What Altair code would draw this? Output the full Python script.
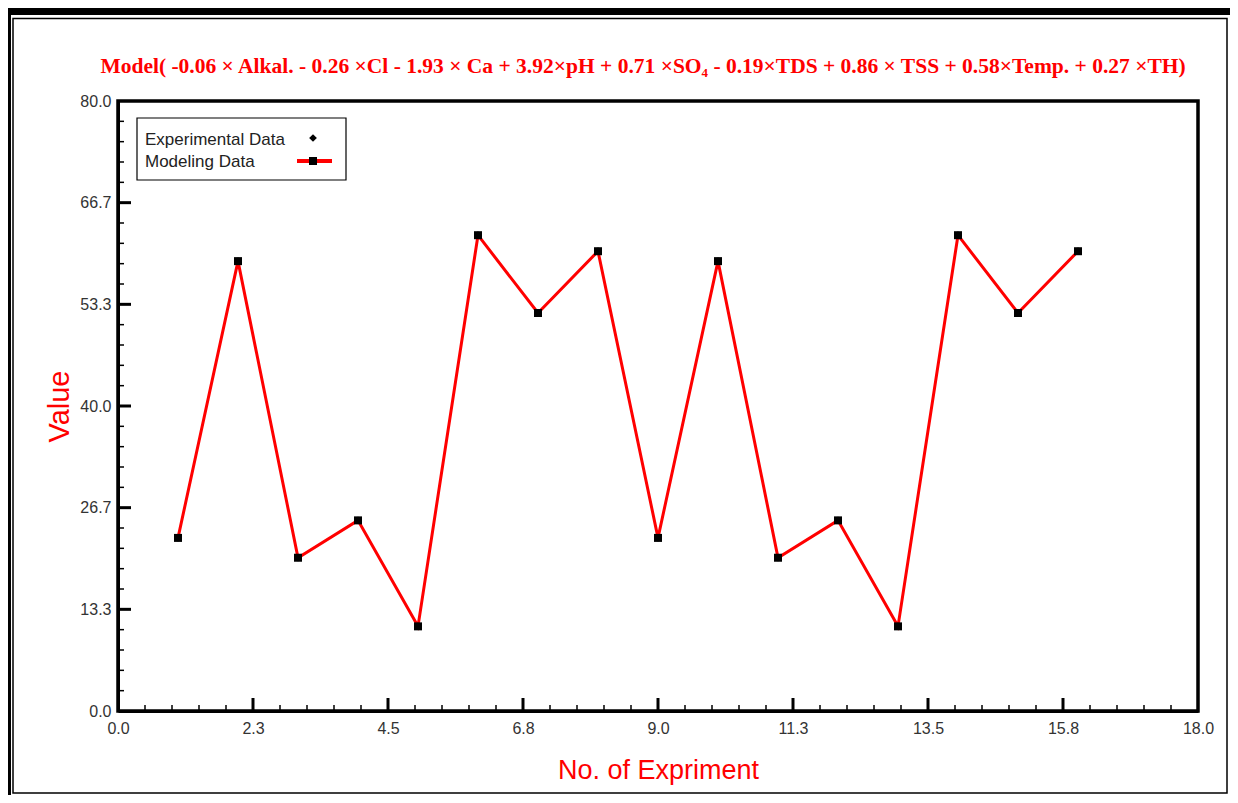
import altair as alt
import pandas as pd

# ---------------- data ----------------
experiments = list(range(1, 17))
experimental = [22.7, 59.0, 20.1, 25.0, 11.1, 62.4, 52.2, 60.3,
                22.7, 59.0, 20.1, 25.0, 11.1, 62.4, 52.2, 60.3]
modeling = [22.7, 59.0, 20.1, 25.0, 11.1, 62.4, 52.2, 60.3,
            22.7, 59.0, 20.1, 25.0, 11.1, 62.4, 52.2, 60.3]

x_ticks = [0, 2.25, 4.5, 6.75, 9, 11.25, 13.5, 15.75, 18]
y_ticks = [0, 40 / 3, 80 / 3, 40, 160 / 3, 200 / 3, 80]
legend_names = ["Experimental Data", "Modeling Data"]
title_text = ("Model( -0.06 × Alkal. - 0.26 ×Cl - 1.93 × Ca + 3.92×pH + 0.71 ×SO₄ "
              "- 0.19×TDS + 0.86 × TSS + 0.58×Temp. + 0.27 ×TH)")
x_title = "No. of Expriment"
y_title = "Value"


def minor(ticks):
    out = []
    for a, b in zip(ticks[:-1], ticks[1:]):
        out += [a + (b - a) * i / 5 for i in range(1, 5)]
    return out


df = pd.DataFrame({"exp": experiments, "experimental": experimental, "modeling": modeling})
df_xmaj = pd.DataFrame({"exp": x_ticks[1:-1]})
df_xmin = pd.DataFrame({"exp": minor(x_ticks)})
df_ymaj = pd.DataFrame({"val": y_ticks[1:-1]})
df_ymin = pd.DataFrame({"val": minor(y_ticks)})
one = pd.DataFrame({"a": [0]})

FONT = "Liberation Sans"
RED = "#ff0000"

x_scale = alt.Scale(domain=[0, 18], nice=False, zero=False)
y_scale = alt.Scale(domain=[0, 80], nice=False)
x_axis = alt.Axis(values=x_ticks, format=".1f", ticks=False, grid=False,
                  domainColor="black", domainWidth=3, labelFlush=False,
                  labelFont=FONT, labelFontSize=16, labelColor="#333", labelPadding=9,
                  title=x_title, titleFont=FONT, titleFontSize=27, titleFontWeight="normal",
                  titleColor=RED, titlePadding=21)
y_axis = alt.Axis(values=y_ticks, format=".1f", ticks=False, grid=False,
                  domainColor="black", domainWidth=3, labelFlush=False,
                  labelFont=FONT, labelFontSize=16, labelColor="#333", labelPadding=7,
                  title=y_title, titleFont=FONT, titleFontSize=29, titleFontWeight="normal",
                  titleColor=RED, titlePadding=5)


def X(field):
    return alt.X(f"{field}:Q", scale=x_scale, axis=x_axis)


def Y(field):
    return alt.Y(f"{field}:Q", scale=y_scale, axis=y_axis)


# ---------------- decorations (page frame) ----------------
outer = alt.Chart(one).mark_rect(filled=False, stroke="black", strokeWidth=7).encode(
    x=alt.value(-110.5), x2=alt.value(1116), y=alt.value(-89.5), y2=alt.value(712))
inner = alt.Chart(one).mark_rect(filled=False, stroke="black", strokeWidth=1.5).encode(
    x=alt.value(-105), x2=alt.value(1109), y=alt.value(-82.5), y2=alt.value(692))

title = alt.Chart(pd.DataFrame({"t": [title_text]})).mark_text(
    font="Liberation Serif", fontWeight="bold", fontSize=21.5, color=RED,
    align="center", baseline="alphabetic").encode(
    text="t:N", x=alt.value(525), y=alt.value(-28))

# ---------------- inward ticks ----------------
xmaj = alt.Chart(df_xmaj).mark_rule(color="black", strokeWidth=3).encode(
    x=X("exp"), y=alt.value(610), y2=alt.value(597))
xmin = alt.Chart(df_xmin).mark_rule(color="black", strokeWidth=1.5).encode(
    x=X("exp"), y=alt.value(610), y2=alt.value(604))
ymaj = alt.Chart(df_ymaj).mark_rule(color="black", strokeWidth=3).encode(
    y=Y("val"), x=alt.value(0), x2=alt.value(13))
ymin = alt.Chart(df_ymin).mark_rule(color="black", strokeWidth=1.5).encode(
    y=Y("val"), x=alt.value(0), x2=alt.value(6))

# ---------------- data marks ----------------
exp_pts = alt.Chart(df).mark_point(shape="diamond", filled=True, color="black", size=60,
                                   opacity=1).encode(x=X("exp"), y=Y("experimental"))
line = alt.Chart(df).mark_line(color=RED, strokeWidth=3).encode(x=X("exp"), y=Y("modeling"))
mod_pts = alt.Chart(df).mark_point(shape="square", filled=True, color="black", size=64,
                                   opacity=1).encode(x=X("exp"), y=Y("modeling"))

# ---------------- legend ----------------
leg_box = alt.Chart(one).mark_rect(fill="white", stroke="black", strokeWidth=1.2).encode(
    x=alt.value(19), x2=alt.value(228), y=alt.value(17), y2=alt.value(79))
leg_t1 = alt.Chart(pd.DataFrame({"t": [legend_names[0]]})).mark_text(
    font=FONT, fontSize=17, color="#222", align="left", baseline="alphabetic").encode(
    text="t:N", x=alt.value(27), y=alt.value(44))
leg_t2 = alt.Chart(pd.DataFrame({"t": [legend_names[1]]})).mark_text(
    font=FONT, fontSize=17, color="#222", align="left", baseline="alphabetic").encode(
    text="t:N", x=alt.value(27), y=alt.value(66))
leg_d = alt.Chart(one).mark_point(shape="diamond", filled=True, color="black", size=60,
                                  opacity=1).encode(x=alt.value(195), y=alt.value(37))
leg_l = alt.Chart(one).mark_rule(color=RED, strokeWidth=4).encode(
    x=alt.value(179), x2=alt.value(214), y=alt.value(60))
leg_s = alt.Chart(one).mark_point(shape="square", filled=True, color="black", size=64,
                                  opacity=1).encode(x=alt.value(195), y=alt.value(60))

chart = alt.layer(
    outer, inner, title,
    xmin, xmaj, ymin, ymaj,
    line, exp_pts, mod_pts,
    leg_box, leg_t1, leg_t2, leg_d, leg_l, leg_s,
).properties(
    width=1080, height=610,
    padding={"left": 110, "top": 93, "right": 32, "bottom": 84},
    autosize=alt.AutoSizeParams(type="none"),
).configure(background="white").configure_view(stroke="black", strokeWidth=3.5)

chart.save("out.html", embed_options={"renderer": "svg", "actions": False})
